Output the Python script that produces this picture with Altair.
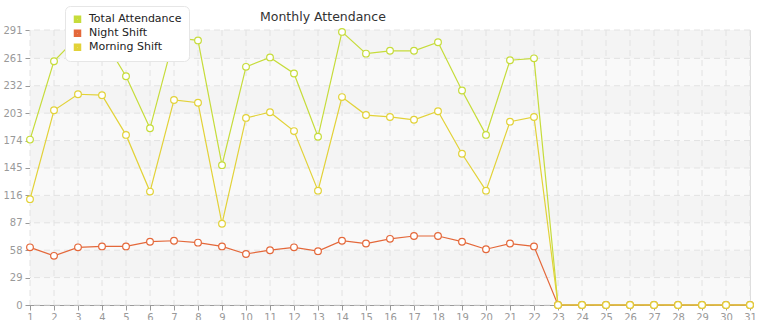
import altair as alt
import pandas as pd

days = list(range(1, 32))
total = [175, 258, 284, 284, 242, 187, 283, 280, 148, 252, 262, 245, 178, 289, 266, 269,
         269, 278, 227, 180, 259, 261, 0, 0, 0, 0, 0, 0, 0, 0, 0]
night = [61, 52, 61, 62, 62, 67, 68, 66, 62, 54, 58, 61, 57, 68, 65, 70,
         73, 73, 67, 59, 65, 62, 0, 0, 0, 0, 0, 0, 0, 0, 0]
morning = [112, 206, 223, 222, 180, 120, 217, 214, 86, 198, 204, 184, 121, 220, 201, 199,
           196, 205, 160, 121, 194, 199, 0, 0, 0, 0, 0, 0, 0, 0, 0]
series_names = ["Total Attendance", "Night Shift", "Morning Shift"]
series_colors = ["#c6dc3a", "#e4683a", "#e2d238"]
y_ticks = [0, 29, 58, 87, 116, 145, 174, 203, 232, 261, 291]
title_text = ["Monthly Attendance"]

rows = []
for name, vals in zip(series_names, [total, night, morning]):
    for d, v in zip(days, vals):
        rows.append({"day": d, "value": v, "series": name})
df = pd.DataFrame(rows)

bands = pd.DataFrame({"y0": y_ticks[:-1], "y1": y_ticks[1:], "k": list(range(len(y_ticks) - 1))})

xscale = alt.Scale(domain=[1, 31], nice=False, zero=False)
yscale = alt.Scale(domain=[0, 291], nice=False)

xaxis = alt.Axis(values=days, title=None, grid=False, labelColor="#999", labelFontSize=10,
                 labelFont="DejaVu Sans", domainColor="#999", tickColor="#999",
                 tickSize=5, labelPadding=2, labelFlush=False)
yaxis = alt.Axis(values=y_ticks, title=None, grid=False, labelColor="#999", labelFontSize=10,
                 labelFont="DejaVu Sans", domainColor="#999", tickColor="#999",
                 tickSize=5, labelPadding=3)

band_layer = alt.Chart(bands).mark_rect().encode(
    x=alt.value(0), x2=alt.value(720),
    y=alt.Y("y0:Q", scale=yscale, axis=yaxis),
    y2="y1:Q",
    color=alt.condition("datum.k % 2 == 1", alt.value("#f4f4f4"), alt.value("#f9f9f9")),
)

grid_y = alt.Chart(pd.DataFrame({"v": y_ticks})).mark_rule(
    color="#e2e2e2", strokeDash=[6, 4], strokeWidth=1
).encode(y=alt.Y("v:Q", scale=yscale, axis=yaxis))

grid_x = alt.Chart(pd.DataFrame({"d": days})).mark_rule(
    color="#e2e2e2", strokeDash=[6, 4], strokeWidth=1
).encode(x=alt.X("d:Q", scale=xscale, axis=xaxis))

lines = alt.Chart(df).mark_line(
    strokeWidth=1.2,
    point=alt.OverlayMarkDef(filled=False, fill="white", size=45, strokeWidth=1.2, opacity=1),
    clip=False,
).encode(
    x=alt.X("day:Q", scale=xscale, axis=xaxis),
    y=alt.Y("value:Q", scale=yscale, axis=yaxis),
    color=alt.Color("series:N",
                    scale=alt.Scale(domain=series_names, range=series_colors),
                    legend=alt.Legend(title=None, orient="none", legendX=35, legendY=-24,
                                      symbolType="square", symbolSize=16, symbolStrokeWidth=3.5,
                                      labelFontSize=11, labelFont="DejaVu Sans", labelColor="#222",
                                      fillColor="white", strokeColor="#e6e6e6", cornerRadius=5,
                                      padding=7, rowPadding=1, labelOffset=6, clipHeight=12.5,
                                      labelLimit=200)),
    detail="series:N",
)

title_layer = alt.Chart(pd.DataFrame({"t": title_text})).mark_text(
    align="left", baseline="middle", fontSize=12.5, font="DejaVu Sans", color="#333"
).encode(text="t:N", x=alt.value(230), y=alt.value(-13))

chart = alt.layer(band_layer, grid_y, grid_x, lines, title_layer).properties(
    width=720, height=275,
    autosize=alt.AutoSizeParams(type="none"),
    padding={"left": 30, "top": 30, "right": 15, "bottom": 15},
).configure_view(stroke="#dddddd").configure(background="white")

chart.save("out.html", embed_options={"renderer": "svg", "actions": False})
